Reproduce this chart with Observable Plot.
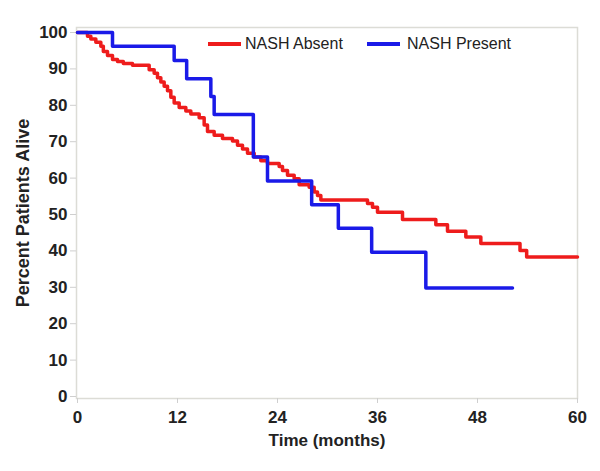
<!DOCTYPE html>
<html>
<head>
<meta charset="utf-8">
<script src="https://cdn.jsdelivr.net/npm/d3@7"></script>
<script src="https://cdn.jsdelivr.net/npm/@observablehq/plot@0.6"></script>
<style>
  html, body { margin: 0; padding: 0; background: #fff; }
  #wrap { position: relative; width: 600px; height: 471px; font-family: "Liberation Sans", Arial, sans-serif; }
  .lg { position: absolute; font-size: 16px; color: #222; white-space: nowrap; line-height: 16px; }
  .sw { position: absolute; height: 4px; }
  g[aria-label="y-axis label"] { font-size: 18px; }
</style>
</head>
<body>
<div id="wrap"></div>
<script>
// Series: NASH Absent (red) – time of each step (months) and survival after it (%)
const absentTime = [0, 1.2, 1.6, 2.2, 2.8, 3.1, 3.6, 4.2, 4.8, 5.5, 6.6, 8.6, 9.2, 9.6, 10.0, 10.4, 10.8, 11.2, 11.6, 12.2, 13.0, 13.6, 14.6, 15.2, 15.6, 16.4, 17.4, 18.6, 19.2, 19.8, 20.4, 21.2, 22.0, 22.8, 24.2, 24.6, 25.2, 26.0, 26.6, 27.8, 28.4, 28.8, 29.2, 34.8, 35.4, 36.0, 39.0, 43.0, 44.4, 46.6, 48.4, 53.1, 53.9, 60.0];
const absentSurv = [100, 99.0, 98.2, 97.3, 96.2, 94.8, 93.7, 92.6, 92.0, 91.5, 91.0, 89.8, 88.8, 87.6, 86.4, 85.2, 84.0, 82.2, 80.6, 79.4, 78.4, 77.6, 76.6, 74.6, 72.8, 71.8, 70.9, 70.2, 69.0, 68.0, 66.8, 65.8, 64.8, 64.0, 63.2, 62.1, 60.8, 59.8, 58.2, 57.5, 56.2, 55.2, 54.0, 53.0, 52.0, 50.6, 48.6, 47.2, 45.4, 43.8, 42.0, 40.1, 38.3, 38.3];
// Series: NASH Present (blue)
const presentTime = [0, 4.2, 11.6, 13.1, 16.0, 16.4, 21.1, 22.8, 28.1, 31.3, 35.3, 41.8, 52.2];
const presentSurv = [100, 96.2, 92.3, 87.3, 82.4, 77.5, 65.8, 59.2, 52.7, 46.2, 39.6, 29.8, 29.8];

const seriesNames = ["NASH Absent", "NASH Present"];
const seriesColors = ["#ee1c1c", "#1a1ae8"];
const xTicks = [0, 12, 24, 36, 48, 60];
const yTicks = [0, 10, 20, 30, 40, 50, 60, 70, 80, 90, 100];
const xTitle = "Time (months)";
const yTitle = "Percent Patients Alive";

const rows = [
  ...absentTime.map((t, i) => ({t, s: absentSurv[i], g: seriesNames[0]})),
  ...presentTime.map((t, i) => ({t, s: presentSurv[i], g: seriesNames[1]}))
];

const chart = Plot.plot({
  width: 600,
  height: 471,
  marginLeft: 76,
  marginRight: 23,
  marginTop: 27,
  marginBottom: 73,
  insetTop: 5,
  insetBottom: 2,
  insetLeft: 1,
  style: {fontFamily: "'Liberation Sans', Arial, sans-serif", background: "#fff"},
  x: {domain: [0, 60]},
  y: {domain: [0, 100]},
  color: {domain: seriesNames, range: seriesColors},
  marks: [
    Plot.frame({stroke: "#dcdcd6", strokeWidth: 1.5}),
    Plot.axisY({ticks: yTicks, tickSize: 6, tickPadding: 3, stroke: "#cfcfcf", fill: "#222",
      fontSize: 17, fontWeight: "bold", label: yTitle, labelAnchor: "center", labelArrow: "none", labelOffset: 60}),
    Plot.axisX({ticks: xTicks, tickSize: 5, tickPadding: 7, stroke: "#cfcfcf", fill: "#222",
      fontSize: 17, fontWeight: "bold", label: xTitle, labelAnchor: "center", labelArrow: "none", labelOffset: 47}),
    Plot.line(rows, {x: "t", y: "s", z: "g", stroke: "g", strokeWidth: 3.5, curve: "step-after"})
  ]
});
const wrap = document.getElementById("wrap");
wrap.appendChild(chart);

// legend inside the plot, top
const legendPos = [{sw: 208, tx: 245}, {sw: 367, tx: 407}];
seriesNames.forEach((name, i) => {
  const sw = document.createElement("div");
  sw.className = "sw";
  sw.style.left = legendPos[i].sw + "px";
  sw.style.top = "42px";
  sw.style.width = "33px";
  sw.style.background = seriesColors[i];
  wrap.appendChild(sw);
  const tx = document.createElement("div");
  tx.className = "lg";
  tx.style.left = legendPos[i].tx + "px";
  tx.style.top = "36px";
  tx.textContent = name;
  wrap.appendChild(tx);
});
</script>
</body>
</html>
